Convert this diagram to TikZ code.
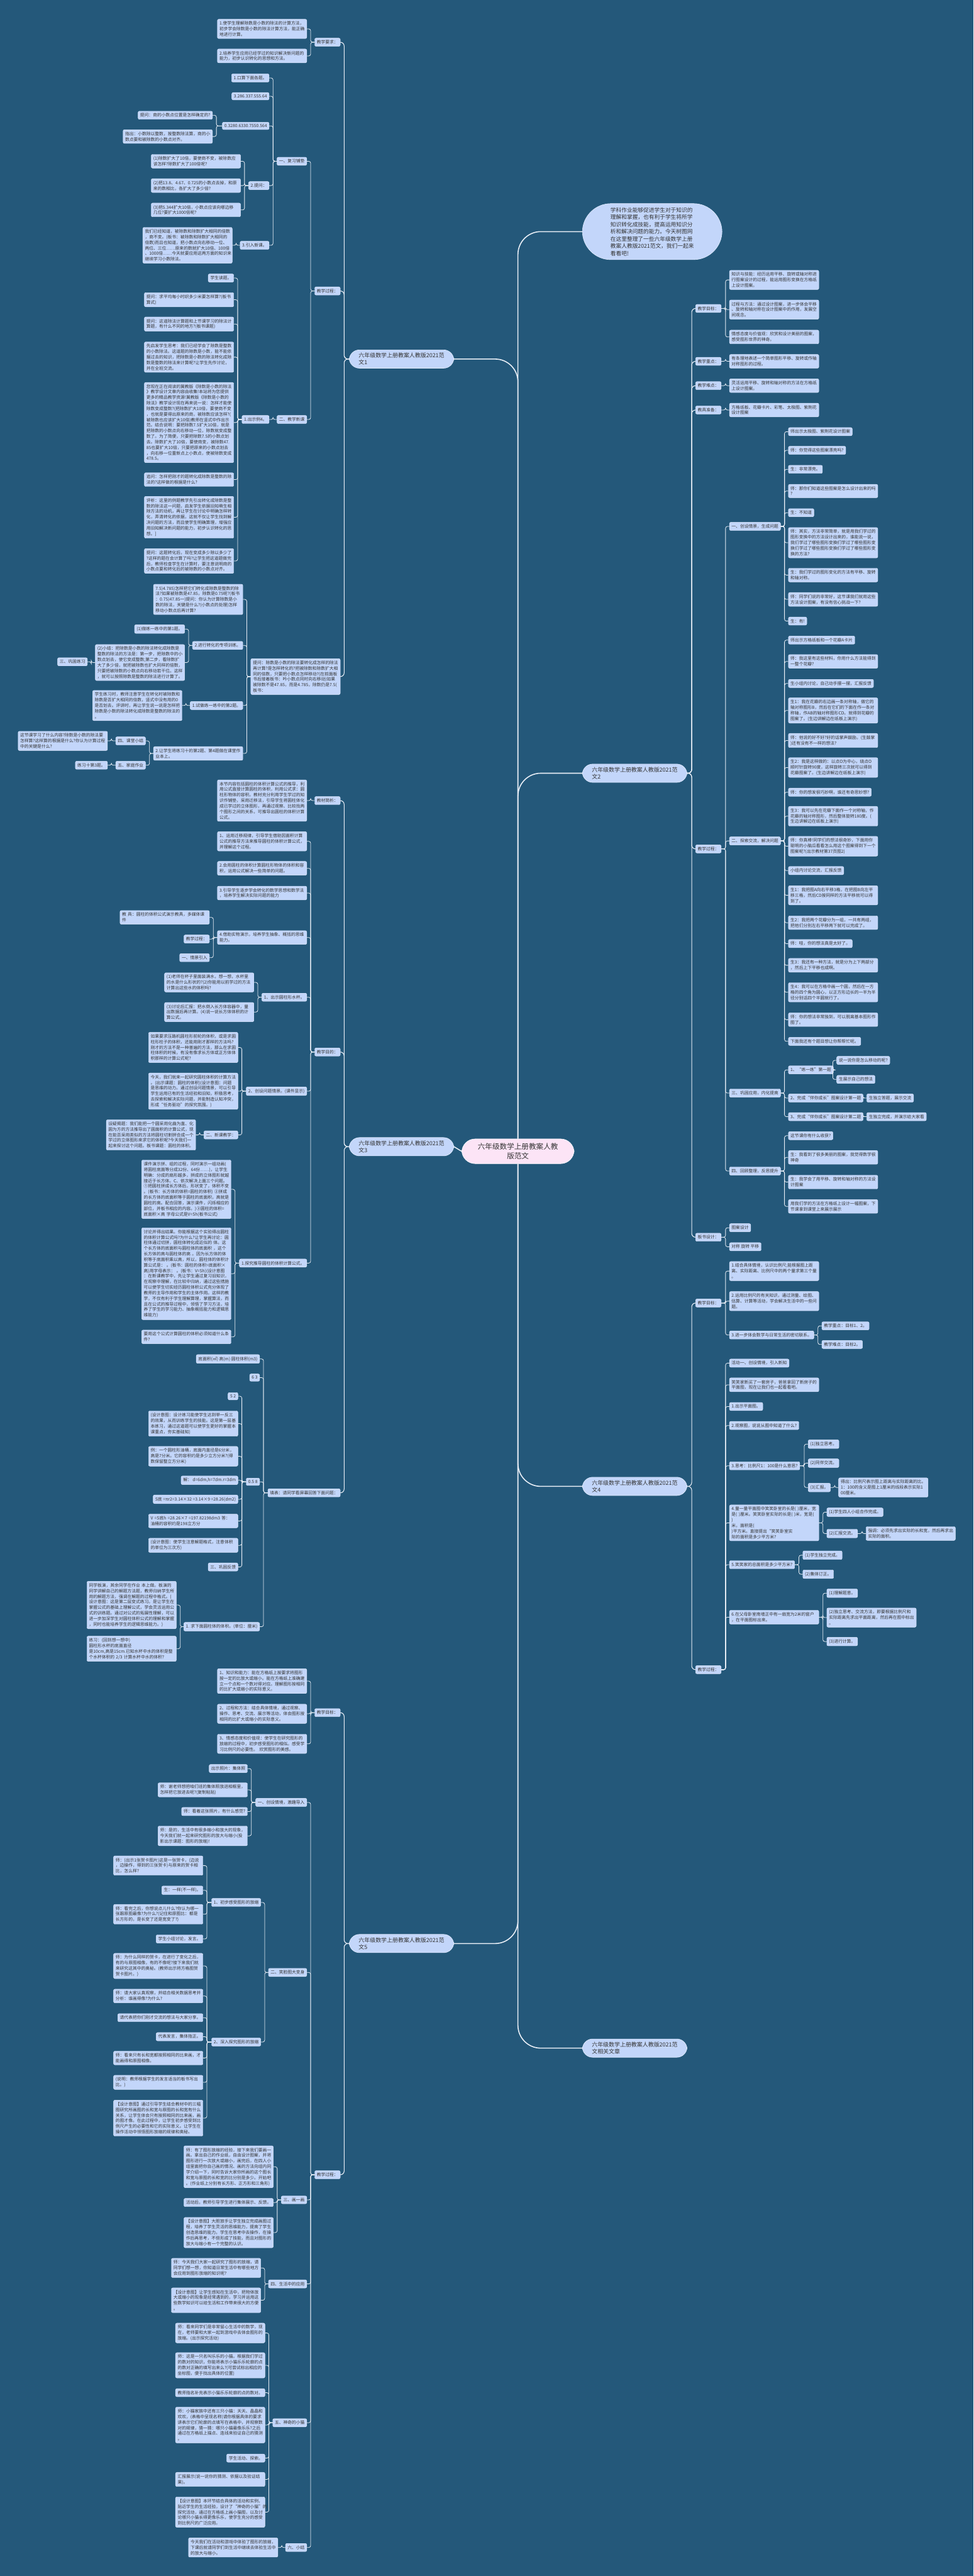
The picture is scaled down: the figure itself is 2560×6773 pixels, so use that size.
\documentclass[tikz,border=0pt]{standalone}
\usepackage{fontspec}
\setmainfont{Noto Sans CJK SC}
\definecolor{mapBg}{HTML}{24587A}
\definecolor{mapBox}{HTML}{C3D6FA}
\definecolor{mapEdge}{HTML}{E2ECFF}
\definecolor{mapLine}{HTML}{E9EFF7}
\definecolor{mapInk}{HTML}{333333}
\definecolor{mapPink}{HTML}{FCE4F6}
\newcommand\linkL[3][link]{\draw[#1] (#3.east) -- ++(10,0) |- (#2.west);}
\newcommand\linkR[3][link]{\draw[#1] (#3.west) -- ++(-10,0) |- (#2.east);}
\begin{document}
\begin{tikzpicture}[x=1pt, y=-1pt,
  leaf/.style={draw=mapEdge, line width=0.7, fill=mapBox, rounded corners=3.5,
    inner xsep=5.5, inner ysep=5.5, text=mapInk,
    font=\fontsize{11.2}{14.6}\selectfont, align=left},
  wide/.style={leaf, text width=224},
  lf/.style={leaf, anchor=east}, lw/.style={wide, anchor=east},
  rf/.style={leaf, anchor=west}, rw/.style={wide, anchor=west},
  hub/.style={draw=mapEdge, line width=1, fill=mapBox, rounded corners=27,
    inner xsep=25, inner ysep=8, text=mapInk,
    font=\fontsize{14.8}{18.5}\selectfont, align=left},
  link/.style={draw=mapLine, line width=1.3, rounded corners=5},
  stem/.style={link, line width=1.8, rounded corners=10},
  spine/.style={draw=mapLine, line width=2.6, rounded corners=60}]
\useasboundingbox (0,0) rectangle (2560,6773);
\fill[mapBg] (0,0) rectangle (2560,6773);

% centre
\node[draw=white, line width=1, fill=mapPink, rounded corners=35, inner xsep=42,
  inner ysep=11, text=mapInk, font=\fontsize{19.2}{25}\selectfont, align=center]
  (root) at (1362,3027) {六年级数学上册教案人教\\版范文};

% ---------- 范文1 ----------
\node[hub, anchor=east] (fa) at (1194,944) {六年级数学上册教案人教版2021范\\文1};
\node[lf] (fa1) at (895,111) {教学要求：};
\node[lf] (fa2) at (895,765) {教学过程：};
\node[lw] (fa3) at (895,1779) {提问：除数是小数的除法要转化成怎样的除法\\再计算?是怎样转化的?把被除数和除数扩大相\\同的倍数，只要把小数点怎样移动?(在前面板\\书后接着板书：吟小数点同时向右移动)如果\\被除数不是47.85，而是4.785，除数仍是7.5(\\板书：};
\node[lw] (fa11) at (807,76) {1.使学生理解除数是小数的除法的计算方法，\\初步学会除数是小数的除法计算方法，能正确\\地进行计算。};
\node[lw] (fa12) at (807,147) {2.培养学生应用已经学过的知识解决新问题的\\能力，初步认识转化的思想和方法。};
\node[lf] (fa21) at (807,424) {一、复习铺垫};
\node[lf] (fa22) at (807,1103) {二、教学新课};
\node[lf] (fa211) at (708,205) {1.口算下面各题。};
\node[lf] (fa212) at (708,253) {3.286.337.555.64};
\node[lf] (fa213) at (708,331) {0.3280.6330.7550.564};
\node[lf] (fa214) at (708,488) {2.提问：};
\node[lf] (fa215) at (708,645) {3.引入新课。};
\node[lf] (fa2131) at (559,303) {提问：商的小数点位置是怎样确定的?};
\node[lw] (fa2132) at (559,359) {指出：小数除以整数，按整数除法算，商的小\\数点要和被除数的小数点对齐。};
\node[lw] (fa2141) at (633,424) {(1)除数扩大了10倍，要使商不变，被除数应\\该怎样?除数扩大了100倍呢?};
\node[lw] (fa2142) at (633,488) {(2)把13.8、4.67、0.725的小数点去掉，和原\\来的数相比，各扩大了多少倍?};
\node[lw] (fa2143) at (633,552) {(3)把5.344扩大10倍，小数点应该向哪边移\\几位?要扩大1000倍呢?};
\node[lw] (fa2151) at (611,645) {我们已经知道，被除数和除数扩大相同的倍数\\，商不变。(板书：被除数和除数扩大相同的\\倍数)而且也知道，把小数点向右移动一位、\\两位、三位……原来的数就扩大10倍、100倍\\、1000倍……今天就要应用这两方面的知识来\\继续学习小数除法。};
\node[lf] (fa221) at (708,1103) {1.出示例4。};
\node[lf] (q1) at (615,731) {学生读题。};
\node[lw] (q2) at (615,788) {提问：求平均每小时织多少米要怎样算?(板书\\算式)};
\node[lw] (q3) at (615,852) {提问：这道除法计算题和上节课学习的除法计\\算题，有什么不同的地方?(板书课题)};
\node[lw] (q4) at (615,939) {先启发学生思考：我们已经学会了除数是整数\\的小数除法。这道题的除数是小数，能不能依\\据过去的知识，把除数是小数的除法转化成除\\数是整数的除法来计算呢?让学生先作讨论，\\并在全班交流。};
\node[lw] (q5) at (615,1111) {您现在正在阅读的冀教版《除数是小数的除法\\》教学设计文章内容由收集!本站将为您提供\\更多的精品教学资源!冀教版《除数是小数的\\除法》教学设计现在再来说一说：怎样才能使\\除数变成整数?(把除数扩大10倍，要使商不变\\，也就是要得出原来的商，被除数应该怎样?(\\被除数也应该扩大10倍)教师在竖式中作出示\\范。结合说明：要把除数7.5扩大10倍，就是\\把除数的小数点向右移动一位，除数就变成整\\数了。为了简便，只要把除数7.5的小数点划\\去。除数扩大了10倍，要使商变，被除数47.\\85也要扩大10倍，只要把原来的小数点划去\\，向右移一位重新点上小数点，使被除数变成\\478.5。};
\node[lw] (q6) at (615,1261) {追问：怎样把刚才的题转化成除数是整数的除\\法的?这样做的根据是什么?};
\node[lw] (q7) at (615,1360) {评析：这里的例题教学先引出转化成除数是整\\数的除法这一问题，启发学生依据旧知萌生相\\除方法的动机，再让学生在讨论中明确怎样转\\化，弄清转化的依据，这就不仅让学生找到解\\决问题的方法，而且使学生明确算理，增强应\\用旧知解决新问题的能力，初步认识转化的思\\想。]};
\node[lw] (q8) at (615,1475) {提问：这题转化后，现在变成多少除以多少了\\?这样的题在会计算了吗?让学生把这道题做完\\后，教师检查学生在计算时，要注意说明商的\\小数点要和转化后的被除数的小数点对齐。};
\node[lw] (fa31) at (639,1576) {7.5)4.785)怎样把它们转化成除数是整数的除\\法?如果被除数是47.85，除数是0.75呢?(板书\\：0.75)47.85一)提问：你认为计算除数是小\\数的除法，关键是什么?(小数点的处理)怎样\\移动小数点后再计算?};
\node[lf] (fa32) at (639,1697) {2.进行转化的专项训练。};
\node[lf] (fa33) at (639,1855) {1.试做练一练中的第2题。};
\node[lw] (fa34) at (639,1981) {2.让学生将练习十的第2题、第4题做在课堂作\\业本上。};
\node[lf] (fa321) at (486,1654) {(1)做练一练中的第1题。};
\node[lw] (fa322) at (486,1742) {(2)小结：把除数是小数的除法转化成除数是\\整数的除法的方法是：第一步，把除数中的小\\数点划去，使它变成整数;第二步，看除数扩\\大了多少倍，就把被除数也扩大同样的倍数，\\只要把被除数的小数点向右移动若干位。这样\\，就可以按照除数是整数的除法进行计算了。};
\node[lf] (fa3221) at (230,1740) {三、巩固练习};
\node[lw] (fa331) at (479,1855) {学生练习时，教师注意学生在转化时被除数和\\除数是否扩大相同的倍数，竖式中没有用的0\\是否划去。评讲时，再让学生说一说是怎样把\\除数是小数的除法转化成除数是整数的除法的\\。};
\node[lf] (fa341) at (383,1948) {四、课堂小结};
\node[lf] (fa342) at (383,2012) {五、家庭作业};
\node[lw] (fa3411) at (283,1948) {这节课学习了什么内容?除数是小数的除法要\\怎样算?这样算的根据是什么?你认为计算过程\\中的关键是什么?};
\node[lf] (fa3421) at (283,2012) {练习十第3题。};

\foreach \c in {fa1,fa2,fa3} {\linkL[stem]{fa}{\c}}
\foreach \c in {fa11,fa12} {\linkL{fa1}{\c}}
\foreach \c in {fa21,fa22} {\linkL{fa2}{\c}}
\foreach \c in {fa211,fa212,fa213,fa214,fa215} {\linkL{fa21}{\c}}
\foreach \c in {fa2131,fa2132} {\linkL{fa213}{\c}}
\foreach \c in {fa2141,fa2142,fa2143} {\linkL{fa214}{\c}}
\linkL{fa215}{fa2151}
\linkL{fa22}{fa221}
\foreach \c in {q1,q2,q3,q4,q5,q6,q7,q8} {\linkL{fa221}{\c}}
\foreach \c in {fa31,fa32,fa33,fa34} {\linkL{fa3}{\c}}
\foreach \c in {fa321,fa322} {\linkL{fa32}{\c}}
\linkL{fa322}{fa3221}
\linkL{fa33}{fa331}
\foreach \c in {fa341,fa342} {\linkL{fa34}{\c}}
\linkL{fa341}{fa3411}
\linkL{fa342}{fa3421}

% ---------- 范文3 ----------
\node[hub, anchor=east] (fc) at (1194,3015) {六年级数学上册教案人教版2021范\\文3};
\node[lf] (fc1) at (895,2105) {教材简析：};
\node[lf] (fc2) at (895,2766) {教学目的：};
\node[lf] (fc3) at (895,3925) {填表：请同学看屏幕回答下面问题：};
\node[lw] (fc11) at (807,2105) {本节内容包括圆柱的体积计算公式的推导，利\\用公式直接计算圆柱的体积，利用公式求：圆\\柱形物体的容积。教材充分利用学生学过的知\\识作铺垫，采用迁移法，引导学生将圆柱体化\\成已学过的立体图形，再通过观察、比较找两\\个图形之间的关系，可推导出圆柱的体积计算\\公式。};
\node[lw] (fc21) at (807,2212) {1、运用迁移规律，引导学生借助因面积计算\\公式的推导方法来推导圆柱的体积计算公式，\\并理解这个过程。};
\node[lw] (fc22) at (807,2283) {2.会用圆柱的体积计算圆柱形物体的体积和容\\积，运用公式解决一些简单的问题。};
\node[lw] (fc23) at (807,2348) {3.引导学生逐步学会转化的数学思想和数学法\\，培养学生解决实际问题的能力};
\node[lw] (fc24) at (807,2465) {4.借助实物演示，培养学生抽象、概括的思维\\能力。};
\node[lf] (fc25) at (807,2622) {1、出示圆柱形水杯。};
\node[lf] (fc26) at (807,2869) {2、创设问题情景。(课件显示)};
\node[lf] (fc27) at (807,3321) {1.探究推导圆柱的体积计算公式。};
\node[lw] (fc241) at (551,2412) {教 具：圆柱的体积公式演示教具，多媒体课\\件};
\node[lf] (fc242) at (551,2469) {教学过程：};
\node[lf] (fc243) at (551,2518) {一、情景引入};
\node[lw] (fc251) at (668,2583) {(1)老师在杯子里面装满水，想一想，水杯里\\的水是什么形状的?(2)你能用以前学过的方法\\计算出这些水的体积吗?};
\node[lw] (fc252) at (668,2661) {(3)讨论后汇报：把水倒入长方体容器中，量\\出数据后再计算。(4)说一说长方体体积的计\\算公式。};
\node[lw] (fc261) at (626,2754) {如果要求压路机圆柱形前轮的体积，或是求圆\\柱形柱子的体积，还能用刚才那样的方法吗?\\刚才的方法不是一种普遍的方法，那么在求圆\\柱体积的时候，有没有像求长方体或正方体体\\积那样的计算公式呢?};
\node[lw] (fc262) at (626,2869) {今天，我们就来一起研究圆柱体积的计算方法\\。(出示课题：圆柱的体积)(设计意图：问题\\是思维的动力。通过创设问题情景，可以引导\\学生运用已有的生活经验和旧知，积极思考，\\去探索和解决实际问题，并能制造认知冲突，\\形成“任务驱动”的探究氛围。)};
\node[lf] (fc263) at (626,2984) {二、新课教学：};
\node[lw] (fc2631) at (515,2984) {设疑揭题：我们能把一个圆采用化曲为直、化\\圆为方的方法推导出了圆面积的计算公式，现\\在能否采用类似的方法将圆柱切割拼合成一个\\学过的立体图形来求它的体积呢?今天我们一\\起来探讨这个问题。板书课题：圆柱的体积。};
\node[lw] (fc271) at (608,3127) {课件演示拼、组的过程，同时演示一组动画(\\将圆柱底面等分成32份、64份……)，让学生\\明确：分成的扇形越多，拼成的立体图形就越\\接近于长方体。C、依次解决上面三个问题。\\①把圆柱拼成长方体后，形状变了，体积不变\\。(板书：长方体的体积=圆柱的体积) ②拼成\\的长方体的底面积等于圆柱的底面积，高就是\\圆柱的高。配合回答，演示课件，闪烁相应的\\部位，并板书相应的内容。)③圆柱的体积=\\底面积×高 字母公式是V=Sh(板书公式)};
\node[lw] (fc272) at (608,3349) {讨论并得出结果。你能根据这个实验得出圆柱\\的体积计算公式吗?为什么?让学生再讨论：圆\\柱体通过切拼，圆柱体转化成近似的 体。这\\个长方体的底面积与圆柱体的底面积 ，这个\\长方体的高与圆柱体的高 。因为长方体的体\\积等于底面积乘以高，所以，圆柱体的体积计\\算公式是： 。(板书：圆柱的体积=底面积×\\高)用字母表示： 。(板书：V=Sh)(设计意图\\：在新课教学中，先让学生通过复习旧知识，\\在观察中理解，在比较中归纳，通过这些措施\\可以使学生切实经历圆柱体积公式充分体现了\\教师的主导作用和学生的主体作用。这样的教\\学，不仅有利于学生理解算理，掌握算法，而\\且在公式的推导过程中，领悟了学习方法，培\\养了学生的学习能力、抽象概括能力和逻辑思\\维能力)};
\node[lw] (fc273) at (608,3515) {要用这个公式计算圆柱的体积必须知道什么条\\件?};
\node[lf] (fc31) at (683,3573) {底面积(㎡) 高(m) 圆柱体积(m3)};
\node[lf] (fc32) at (683,3622) {6 3};
\node[lf] (fc33) at (683,3896) {0.5 8};
\node[lf] (fc34) at (683,4277) {1. 求下面圆柱体的体积。(单位：厘米)};
\node[lf] (fc331) at (626,3671) {5 2};
\node[lw] (fc332) at (626,3743) {(设计意图：设计练习能使学生达到举一反三\\的效果，从而训练学生的技能。这是第一层基\\本练习，通过这道题可以使学生更好的掌握本\\课重点，夯实基础知)};
\node[lw] (fc333) at (626,3829) {例：一个圆柱形油桶，底面内直径是6分米，\\高是7分米。它的容积约是多少立方分米?(得\\数保留整立方分米)};
\node[lf] (fc334) at (626,3892) {解： d=6dm,h=7dm.r=3dm};
\node[lf] (fc335) at (626,3942) {S底 =πr2=3.14×32 =3.14×9 =28.26(dm2)};
\node[lw] (fc336) at (626,3999) {V =S底h =28.26×7 =197.82198dm3 答：\\油桶的容积约是198立方分};
\node[lw] (fc337) at (626,4063) {(设计意图：使学生注意解题格式，注意体积\\的单位为三次方)};
\node[lf] (fc338) at (626,4120) {三、巩固反馈};
\node[lw] (fc341) at (464,4220) {同学板演，其余同学在作业 本上做。板演的\\同学讲解自己的解题方法题，教师归纳学生所\\用的解题方法，强调在解题的过程中格式。(\\设计意图：这是第二层变式练习。是让学生在\\掌握公式的基础上理解公式，学会灵活运用公\\式的训练题。通过对公式的拓展性理解，可以\\进一步加深学生对圆柱体积公式的理解和掌握\\，同时也能培养学生的逻辑思维能力。)};
\node[lw] (fc342) at (464,4335) {练习：(回到想一想中) 圆柱形水杯的底面直径\\是10cm,高是15cm.已知水杯中水的体积是整\\个水杯体积的 2/3 计算水杯中水的体积?};

\foreach \c in {fc1,fc2,fc3} {\linkL[stem]{fc}{\c}}
\linkL{fc1}{fc11}
\foreach \c in {fc21,fc22,fc23,fc24,fc25,fc26,fc27} {\linkL{fc2}{\c}}
\foreach \c in {fc241,fc242,fc243} {\linkL{fc24}{\c}}
\foreach \c in {fc251,fc252} {\linkL{fc25}{\c}}
\foreach \c in {fc261,fc262,fc263} {\linkL{fc26}{\c}}
\linkL{fc263}{fc2631}
\foreach \c in {fc271,fc272,fc273} {\linkL{fc27}{\c}}
\foreach \c in {fc31,fc32,fc33,fc34} {\linkL{fc3}{\c}}
\foreach \c in {fc331,fc332,fc333,fc334,fc335,fc336,fc337,fc338} {\linkL{fc33}{\c}}
\foreach \c in {fc341,fc342} {\linkL{fc34}{\c}}

% ---------- 范文5 ----------
\node[hub, anchor=east] (fe) at (1194,5110) {六年级数学上册教案人教版2021范\\文5};
\node[lf] (fe1) at (895,4503) {教学目标：};
\node[lf] (fe2) at (895,5718) {教学过程：};
\node[lw] (fe11) at (807,4420) {1、知识和能力：能在方格纸上按要求将图形\\按一定的比放大或缩小。能在方格纸上准确建\\立一个点和一个数对得对应。理解图形按相同\\的比扩大或缩小的实际意义。};
\node[lw] (fe12) at (807,4506) {2、过程和方法：结合具体情境，通过观察、\\操作、思考、交流、展示等活动，体会图形按\\相同的比扩大或缩小的实际意义。};
\node[lw] (fe13) at (807,4585) {3、情感态度和价值观：使学生在研究图形的\\放缩的过程中，初步感受图形的相似。感受学\\习比例尺的必要性。 欣赏图形的美感。};
\node[lf] (fe21) at (807,4739) {一、创设情境，激趣导入};
\node[lf] (fe22) at (807,5186) {二、笑脸图大变身};
\node[lf] (fe23) at (807,5784) {三、画一画};
\node[lf] (fe24) at (807,6005) {四、生活中的应用};
\node[lf] (fe25) at (807,6370) {五、神奇的小猫};
\node[lf] (fe26) at (807,6698) {六、小结};
\node[lf] (fe211) at (651,4650) {出示照片：集体照};
\node[lw] (fe212) at (651,4706) {师：谢老师想把咱们班的集体照放进相框里，\\怎样把它放进去呢?(复制粘贴)};
\node[lf] (fe213) at (651,4763) {师：看着这张照片，有什么感觉?};
\node[lw] (fe214) at (651,4827) {师：是的，生活中有很多缩小和放大的现象，\\今天我们就一起来研究图形的放大与缩小(投\\影出示课题：图形的放缩)!};
\node[lf] (fe221) at (686,5002) {1、初步感受图形的放缩};
\node[lf] (fe222) at (686,5369) {2、深入探究图形的放缩};
\node[lw] (fe2211) at (534,4905) {师：(出示1张贺卡图片)这是一张贺卡，(边说\\，边操作，得到的三张贺卡)与原来的贺卡相\\比，怎么样?};
\node[lf] (fe2212) at (534,4970) {生：一样(不一样)。};
\node[lw] (fe2213) at (534,5033) {师：看完之后，你想说点儿什么?你认为哪一\\张跟原图最像?为什么?(记住和原图比：都是\\长方形的，是长变了还是宽变了?)};
\node[lf] (fe2214) at (534,5098) {学生小组讨论，发言。};
\node[lw] (fe2221) at (534,5169) {师：为什么同样的贺卡，在进行了变化之后，\\有的与原图相像，有的不像呢?接下来我们就\\来研究这其中的奥秘。(教师出示将方格图贺\\贺卡图片。)};
\node[lw] (fe2222) at (534,5248) {师：请大家认真观察，并结合相关数据思考并\\分析：谁画得像?为什么?};
\node[lf] (fe2223) at (534,5305) {请代表把你们刚才交流的想法与大家分享。};
\node[lf] (fe2224) at (534,5355) {代表发言，集体指正。};
\node[lw] (fe2225) at (534,5411) {师：看来只有长和宽都按照相同的比来画，才\\能画得和原图相像。};
\node[lw] (fe2226) at (534,5475) {(说明：教师根据学生的发言适当的板书写出\\比。)};
\node[lw] (fe2227) at (534,5569) {【设计意图】通过引导学生结合教材中的三幅\\图研究所画图的长和宽与原图的长和宽有什么\\关系，让学生体会只有按照相同的比来画，画\\的图才像。在此过程中，让学生初步感受到比\\例尺产生的必要性和它的实际意义。让学生在\\操作活动中领悟图形放缩的规律和奥秘。};
\node[lw] (fe231) at (719,5697) {师：有了图形放缩的经验，接下来我们要画一\\画。拿出自己的作业纸，自由设计图案，并将\\图形进行一次放大或缩小，画完后，在四人小\\组里面把你自己画的情况、画的方法向组内同\\学介绍一下，同时告诉大家你所画的这个图长\\和宽与原图的长和宽的比分别是多少。开始吧\\。(作业纸上分别有长方形、正方形和三角形)};
\node[lf] (fe232) at (719,5791) {活动后，教师引导学生进行集体展示、反馈。};
\node[lw] (fe233) at (719,5870) {【设计意图】大胆放手让学生独立完成画图过\\程，培养了学生灵活的思维能力，提高了学生\\创造思维的能力。学生在思考中去操作，在操\\作后再思考，不但形成了技能，而且对图形的\\放大与缩小有一个完整的认识。};
\node[lw] (fe241) at (686,5963) {师：今天我们大家一起研究了图形的放缩，请\\同学们想一想，你知道日常生活中有哪些地方\\会应用到图形放缩的知识呢?};
\node[lw] (fe242) at (686,6048) {【设计意图】让学生感知在生活中，把物体放\\大或缩小的现象是经常遇到的，学习并运用这\\些数学知识可以给生活和工作带来很大的方便\\。};
\node[lw] (fe251) at (697,6134) {师：看来同学们是非常留心生活中的数学，现\\在，老师要和大家一起到游戏中去体会图形的\\放缩。(出示探究活动)};
\node[lw] (fe252) at (697,6219) {师：这是一只名叫乐乐的小猫。根据我们学过\\的数对的知识，你能将表示小猫乐乐轮廓的点\\的数对正确的填写出来么?(可尝试标出相应的\\坐标图，便于找出具体的位置)};
\node[lf] (fe253) at (697,6291) {教师指名补充表示小猫乐乐轮廓的点的数对。};
\node[lw] (fe254) at (697,6376) {师：小猫家族中还有三只小猫：天天、晶晶和\\欢欢，(表格中呈现名称)请你根据具体的要求\\讲表示它们轮廓的点填写在表格中，并观察数\\对的规律，猜一猜：哪只小猫最像乐乐?之后\\通过在方格纸上描点、连线来验证自己的猜测\\。};
\node[lf] (fe255) at (697,6463) {学生活动、探索。};
\node[lw] (fe256) at (697,6519) {汇报展示(说一说你的猜测、依据以及验证结\\果)。};
\node[lw] (fe257) at (697,6605) {【设计意图】本环节结合具体的活动和实例，\\贴近学生的生活经验，设计了“神奇的小猫”的\\探究活动，通过在方格纸上画小猫图，以及讨\\论哪只小猫长得更像乐乐，使学生充分的感受\\到比例尺的广泛应用。};
\node[lw] (fe261) at (731,6698) {今天我们在活动和游戏中体验了图形的放缩，\\下课后就请同学们到生活中继续去体验生活中\\的放大与缩小。};

\foreach \c in {fe1,fe2} {\linkL[stem]{fe}{\c}}
\foreach \c in {fe11,fe12,fe13} {\linkL{fe1}{\c}}
\foreach \c in {fe21,fe22,fe23,fe24,fe25,fe26} {\linkL{fe2}{\c}}
\foreach \c in {fe211,fe212,fe213,fe214} {\linkL{fe21}{\c}}
\foreach \c in {fe221,fe222} {\linkL{fe22}{\c}}
\foreach \c in {fe2211,fe2212,fe2213,fe2214} {\linkL{fe221}{\c}}
\foreach \c in {fe2221,fe2222,fe2223,fe2224,fe2225,fe2226,fe2227} {\linkL{fe222}{\c}}
\foreach \c in {fe231,fe232,fe233} {\linkL{fe23}{\c}}
\foreach \c in {fe241,fe242} {\linkL{fe24}{\c}}
\foreach \c in {fe251,fe252,fe253,fe254,fe255,fe256,fe257} {\linkL{fe25}{\c}}
\linkL{fe26}{fe261}

% ---------- right side ----------
\node[draw=mapEdge, line width=1, fill=mapBox, rounded corners=75, inner xsep=74,
  inner ysep=10, text=mapInk, font=\fontsize{14.4}{19}\selectfont, align=left,
  anchor=west] (intro) at (1531,609) {学科作业能够促进学生对于知识的\\理解和掌握，也有利于学生将所学\\知识转化成技能，提高运用知识分\\析和解决问题的能力。今天树图网\\在这里整理了一些六年级数学上册\\教案人教版2021范文，我们一起来\\看看吧!};

% ---------- 范文2 ----------
\node[hub, anchor=west] (fb) at (1531,2033) {六年级数学上册教案人教版2021范\\文2};
\node[rf] (fb1) at (1829,811) {教学目标：};
\node[rf] (fb2) at (1829,950) {教学重点：};
\node[rf] (fb3) at (1829,1014) {教学难点：};
\node[rf] (fb4) at (1829,1078) {教具准备：};
\node[rf] (fb5) at (1829,2232) {教学过程：};
\node[rf] (fb6) at (1829,3253) {板书设计：};
\node[rw] (fb11) at (1918,736) {知识与技能：经历运用平移、旋转或轴对称进\\行图案设计的过程，能运用图形变换在方格纸\\上设计图案。};
\node[rw] (fb12) at (1918,814) {过程与方法：通过设计图案，进一步体会平移\\、旋转和轴对称在设计图案中的作用，发展空\\间观念。};
\node[rw] (fb13) at (1918,886) {情感态度与价值观：欣赏和设计美丽的图案，\\感受图形世界的神奇。};
\node[rw] (fb21) at (1918,950) {有条理地表述一个简单图形平移、旋转或作轴\\对称图形的过程。};
\node[rw] (fb31) at (1918,1014) {灵活运用平移、旋转和轴对称的方法在方格纸\\上设计图案。};
\node[rw] (fb41) at (1918,1078) {方格纸板、花瓣卡片、彩笔、太极图、紫荆花\\设计图案};
\node[rf] (fb51) at (1918,1384) {一、创设情景，生成问题};
\node[rf] (fb52) at (1918,2211) {二、探索交流，解决问题};
\node[rf] (fb53) at (1918,2874) {三、巩固应用，内化提高};
\node[rf] (fb54) at (1918,3079) {四、回顾整理，反思提升};
\node[rf] (b1) at (2073,1135) {师出示太极图、紫荆花设计图案};
\node[rf] (b2) at (2073,1184) {师：你觉得这些图案漂亮吗?};
\node[rf] (b3) at (2073,1234) {生：非常漂亮。};
\node[rw] (b4) at (2073,1291) {师：那你们知道这些图案是怎么设计出来的吗\\?};
\node[rf] (b5) at (2073,1348) {生：不知道};
\node[rw] (b6) at (2073,1427) {师：其实，方法非常简单，就是用我们学过的\\图形变换中的方法设计出来的，谁能说一说，\\我们学过了哪些图形变换们学过了哪些图形变\\换们学过了哪些图形变换们学过了哪些图形变\\换的方法?};
\node[rw] (b7) at (2073,1512) {生：我们学过的图形变化的方法有平移、旋转\\和轴对称。};
\node[rw] (b8) at (2073,1576) {师：同学们说的非常好，这节课我们就用这些\\方法设计图案，有没有信心挑战一下?};
\node[rf] (b9) at (2073,1633) {生：有!};
\node[rf] (c1) at (2073,1683) {师出示方格纸板和一个花瓣A卡片};
\node[rw] (c2) at (2073,1739) {师：我这里有这些材料，你用什么方法能得到\\一整个花瓣?};
\node[rf] (c3) at (2073,1797) {生小组内讨论，自己动手摆一摆，汇报反馈};
\node[rw] (c4) at (2073,1868) {生1：我在花瓣的右边画一条对称轴，做它的\\轴对称图形B，然后在它们的下面在作一条对\\称轴，作AB的轴对称图形CD。就得到花瓣的\\图案了。(生边讲解边在纸板上演示)};
\node[rw] (c5) at (2073,1947) {师：他说的好不好?好的话掌声鼓励。(生鼓掌\\)还有没有不一样的想法?};
\node[rw] (c6) at (2073,2018) {生2：我是这样做的：以点O为中心，绕点O\\顺时针旋转90度，这样旋转三次就可以得到\\花瓣图案了。(生边讲解边在纸板上演示)};
\node[rf] (c7) at (2073,2083) {师：你的想发很巧妙啊，谁还有奇思妙想?};
\node[rw] (c8) at (2073,2146) {生3：我可以先在花瓣下面作一个对称轴，作\\花瓣的轴对称图形，然后整体旋转180度。(\\生边讲解边在纸板上演示)};
\node[rw] (c9) at (2073,2225) {师：你真棒!同学们的想法很奇妙，下面用你\\聪明的小脑瓜看看怎么用这个图案得到下一个\\图案呢?(出示教材第37页图2)};
\node[rf] (c10) at (2073,2289) {小组内讨论交流，汇报反馈};
\node[rw] (c11) at (2073,2354) {生1：我把图A向右平移3格，在把图B向左平\\移三格，然后CD按同样的方法平移就可以得\\到了。};
\node[rw] (c12) at (2073,2426) {生2：我把两个花瓣分为一组，一共有两组，\\把他们分别左右平移两下就可以完成了。};
\node[rf] (c13) at (2073,2481) {师：哇，你的想法真是太好了。};
\node[rw] (c14) at (2073,2538) {生3：我还有一种方法，就是分为上下两部分\\，然后上下平移也成啊。};
\node[rw] (c15) at (2073,2609) {生4：我可以在方格中画一个圆，然后在一方\\格的四个角为圆心，以正方形边长的一半为半\\径分别话四个半圆就行了。};
\node[rw] (c16) at (2073,2681) {师：你的想法非常独到，可以脱离基本图形作\\图了。};
\node[rf] (c17) at (2073,2738) {下面我还有个题目想让你帮帮忙呢。};
\node[rf] (fb531) at (2073,2813) {1、“练一练”第一题};
\node[rf] (fb532) at (2073,2887) {2、完成“伴你成长”图案设计第一题};
\node[rf] (fb533) at (2073,2936) {3、完成“伴你成长”图案设计第二题};
\node[rf] (fb5311) at (2200,2788) {说一说你是怎么移动的呢?};
\node[rf] (fb5312) at (2200,2838) {生展示自己的想法};
\node[rf] (fb5321) at (2279,2887) {生独立答题，展示交流};
\node[rf] (fb5331) at (2279,2936) {生独立完成，并演示给大家看};
\node[rf] (d1) at (2073,2986) {这节课你有什么收获?};
\node[rw] (d2) at (2073,3043) {生：我看到了很多美丽的图案，我觉得数学很\\神奇};
\node[rw] (d3) at (2073,3108) {生：我学会了用平移、旋转和轴对称的方法设\\计图案};
\node[rw] (d4) at (2073,3172) {用我们学的方法在方格纸上设计一幅图案，下\\节课拿到课堂上来展示展示};
\node[rf] (fb61) at (1918,3228) {图案设计};
\node[rf] (fb62) at (1918,3278) {对称 旋转 平移};

\foreach \c in {fb1,fb2,fb3,fb4,fb5,fb6} {\linkR[stem]{fb}{\c}}
\foreach \c in {fb11,fb12,fb13} {\linkR{fb1}{\c}}
\linkR{fb2}{fb21}
\linkR{fb3}{fb31}
\linkR{fb4}{fb41}
\foreach \c in {fb51,fb52,fb53,fb54} {\linkR{fb5}{\c}}
\foreach \c in {b1,b2,b3,b4,b5,b6,b7,b8,b9} {\linkR{fb51}{\c}}
\foreach \c in {c1,c2,c3,c4,c5,c6,c7,c8,c9,c10,c11,c12,c13,c14,c15,c16,c17} {\linkR{fb52}{\c}}
\foreach \c in {fb531,fb532,fb533} {\linkR{fb53}{\c}}
\foreach \c in {fb5311,fb5312} {\linkR{fb531}{\c}}
\linkR{fb532}{fb5321}
\linkR{fb533}{fb5331}
\foreach \c in {d1,d2,d3,d4} {\linkR{fb54}{\c}}
\foreach \c in {fb61,fb62} {\linkR{fb6}{\c}}

% ---------- 范文4 ----------
\node[hub, anchor=west] (fd) at (1531,3908) {六年级数学上册教案人教版2021范\\文4};
\node[rf] (fd1) at (1829,3426) {教学目标：};
\node[rf] (fd2) at (1829,4390) {教学过程：};
\node[rw] (fd11) at (1918,3342) {1.结合具体情境，认识比例尺;能根据图上距\\离、实际距离、比例尺中的两个量求第三个量\\。};
\node[rw] (fd12) at (1918,3421) {2.运用比例尺的有关知识，通过测量、绘图、\\估算、计算等活动，学会解决生活中的一些问\\题。};
\node[rf] (fd13) at (1918,3510) {3.进一步体会数学与日常生活的密切联系。};
\node[rf] (fd131) at (2161,3486) {教学重点：目标1、2。};
\node[rf] (fd132) at (2161,3535) {教学难点：目标2。};
\node[rf] (fd21) at (1918,3584) {活动一、创设情境，引入新知};
\node[rw] (fd22) at (1918,3641) {笑笑家新买了一套房子，爸爸拿回了新房子的\\平面图，现在让我们也一起看看吧。};
\node[rf] (fd23) at (1918,3698) {1.出示平面图。};
\node[rf] (fd24) at (1918,3748) {2.观察图，说说从图中知道了什么?};
\node[rf] (fd25) at (1918,3854) {3.思考：比例尺1：100是什么意思?};
\node[rw] (fd26) at (1918,4004) {4.量一量平面图中笑笑卧室的长是( )厘米，宽\\是( )厘米。笑笑卧室实际的长是( )米，宽是( )\\米，面积是( )平方米。直接提出“笑笑卧室实\\际的面积是多少平方米?};
\node[rf] (fd27) at (1918,4114) {5.笑笑家的总面积是多少平方米?};
\node[rw] (fd28) at (1918,4252) {6.在父母卧室南墙正中有一扇宽为2米的窗户\\，在平面图标出来。};
\node[rf] (fd251) at (2125,3797) {(1)独立思考。};
\node[rf] (fd252) at (2125,3847) {(2)同伴交流。};
\node[rf] (fd253) at (2125,3911) {(3)汇报。};
\node[rw] (fd2531) at (2205,3911) {得出：比例尺表示图上距离与实际距离的比。\\1：100的含义是图上1厘米的线段表示实际1\\00厘米。};
\node[rf] (fd261) at (2174,3976) {(1)学生四人小组合作完成。};
\node[rf] (fd262) at (2174,4032) {(2)汇报交流。};
\node[rw] (fd2621) at (2277,4032) {强调：必须先求出实际的长和宽，然后再求出\\实际的面积。};
\node[rf] (fd271) at (2111,4089) {(1)学生独立完成。};
\node[rf] (fd272) at (2111,4139) {(2)集体订正。};
\node[rf] (fd281) at (2174,4189) {(1)理解题意。};
\node[rw] (fd282) at (2174,4253) {(2)独立思考、交流方法，即要根据比例尺和\\实际距离先求出平面距离，然后再在图中标出\\。};
\node[rf] (fd283) at (2174,4316) {(3)进行计算。};

\foreach \c in {fd1,fd2} {\linkR[stem]{fd}{\c}}
\foreach \c in {fd11,fd12,fd13} {\linkR{fd1}{\c}}
\foreach \c in {fd131,fd132} {\linkR{fd13}{\c}}
\foreach \c in {fd21,fd22,fd23,fd24,fd25,fd26,fd27,fd28} {\linkR{fd2}{\c}}
\foreach \c in {fd251,fd252,fd253} {\linkR{fd25}{\c}}
\linkR{fd253}{fd2531}
\foreach \c in {fd261,fd262} {\linkR{fd26}{\c}}
\linkR{fd262}{fd2621}
\foreach \c in {fd271,fd272} {\linkR{fd27}{\c}}
\foreach \c in {fd281,fd282,fd283} {\linkR{fd28}{\c}}

% ---------- 范文6 ----------
\node[hub, anchor=west] (ff) at (1531,5385) {六年级数学上册教案人教版2021范\\文相关文章};

% spine from the centre
\draw[spine] (root.north) |- (intro.west);
\draw[spine] (root.north) |- (fb.west);
\draw[spine] (root.north) |- (fa.east);
\draw[spine] (root.west) -- (fc.east);
\draw[spine] (root.south) |- (fd.west);
\draw[spine] (root.south) |- (fe.east);
\draw[spine] (root.south) |- (ff.west);
\end{tikzpicture}
\end{document}
